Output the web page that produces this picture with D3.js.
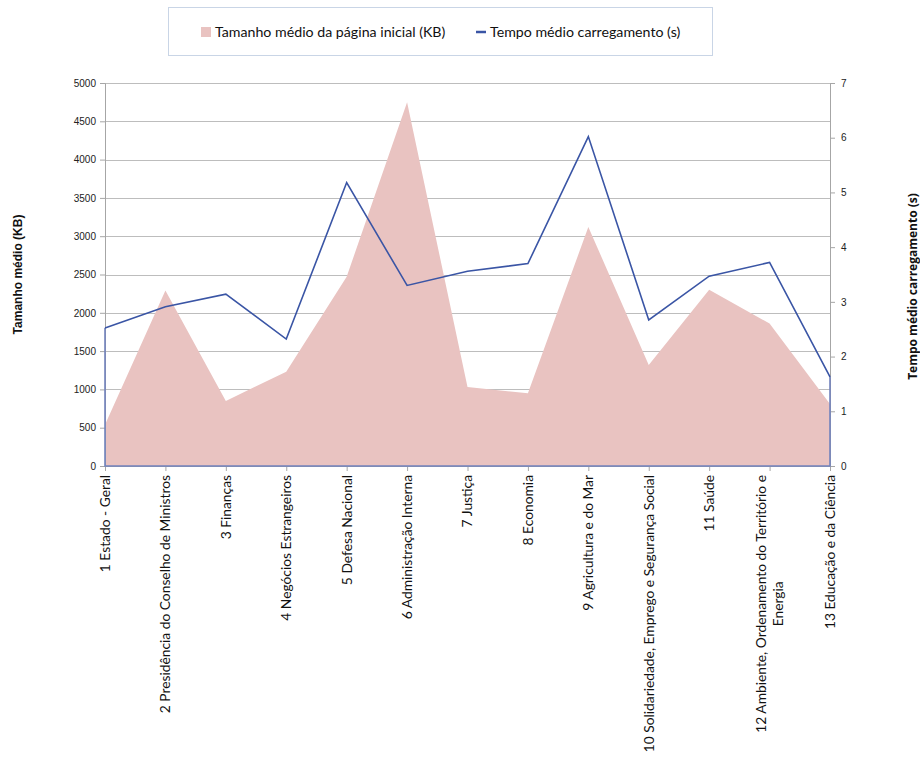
<!DOCTYPE html>
<html>
<head>
<meta charset="utf-8">
<script src="https://cdn.jsdelivr.net/npm/d3@7"></script>
<style>
	body { margin: 0; background: #fff; }
	svg { display: block; }
	.tick text { fill: #222; }
</style>
</head>
<body>
<svg width="920" height="758"></svg>
<script>
const categorias = [
	"1 Estado - Geral",
	"2 Presidência do Conselho de Ministros",
	"3 Finanças",
	"4 Negócios Estrangeiros",
	"5 Defesa Nacional",
	"6 Administração Interna",
	"7 Justiça",
	"8 Economia",
	"9 Agricultura e do Mar",
	"10 Solidariedade, Emprego e Segurança Social",
	"11 Saúde",
	"12 Ambiente, Ordenamento do Território e|Energia",
	"13 Educação e da Ciência"
];

// Tamanho médio da página inicial (KB)
const tamanho = [540, 2290, 850, 1230, 2470, 4750, 1030, 950, 3120, 1320, 2300, 1860, 810];
// Tempo médio carregamento (s)
const tempo = [2.52, 2.91, 3.14, 2.32, 5.18, 3.30, 3.56, 3.70, 6.02, 2.67, 3.47, 3.72, 1.63];

const ticksEsq = [0, 500, 1000, 1500, 2000, 2500, 3000, 3500, 4000, 4500, 5000];
const ticksDir = [0, 1, 2, 3, 4, 5, 6, 7];

const nomeArea = "Tamanho médio da página inicial (KB)";
const nomeLinha = "Tempo médio carregamento (s)";
const tituloEsq = "Tamanho médio (KB)";
const tituloDir = "Tempo médio carregamento (s)";

const svg = d3.select("svg");
const margin = { top: 83, right: 90, bottom: 292, left: 105 };
const width = 920 - margin.left - margin.right;
const height = 758 - margin.top - margin.bottom;

const corArea = "#e9c3c1";
const corLinha = "#3a55a5";
const cinza = "#a6a6a6";
const fonteTexto = "Lato, 'Open Sans', sans-serif";

const x = d3.scalePoint().domain(d3.range(categorias.length)).range([0, width]);
const y = d3.scaleLinear([0, 5000], [height, 0]);
const y2 = d3.scaleLinear([0, 7], [height, 0]);

const g = svg.append("g")
	.attr("transform", `translate(${margin.left},${margin.top})`);

// grelha
g.append("g")
	.selectAll("line")
	.data(ticksEsq.slice(1))
	.join("line")
	.attr("x1", 0)
	.attr("x2", width)
	.attr("y1", d => Math.round(y(d)) + 0.5)
	.attr("y2", d => Math.round(y(d)) + 0.5)
	.attr("stroke", "#bdbdbd")
	.attr("stroke-width", 1);

// area
const area = d3.area()
	.x((d, i) => x(i))
	.y0(y(0))
	.y1(d => y(d));

g.append("path")
	.attr("fill", corArea)
	.attr("d", area(tamanho));

// eixos
const gY1 = g.append("g")
	.call(d3.axisLeft(y).tickValues(ticksEsq).tickSize(5).tickPadding(4).tickFormat(d3.format("d")));
const gY2 = g.append("g")
	.attr("transform", `translate(${width},0)`)
	.call(d3.axisRight(y2).tickValues(ticksDir).tickSize(5).tickPadding(6).tickFormat(d3.format("d")));
const gX = g.append("g")
	.attr("transform", `translate(0,${height})`)
	.call(d3.axisBottom(x).tickSize(5).tickFormat(""));

[gY1, gY2, gX].forEach(a => {
	a.select(".domain").attr("stroke", cinza);
	a.selectAll(".tick line").attr("stroke", cinza);
	a.selectAll(".tick text")
		.attr("font-family", "'Liberation Sans', Arial, sans-serif")
		.attr("font-size", 10);
});

// bordas da serie de linha (fecho ate a base)
const n = tempo.length - 1;
g.append("path")
	.attr("fill", "none")
	.attr("stroke", "#7283bd")
	.attr("stroke-width", 1.6)
	.attr("d", `M${x(0)},${y2(tempo[0])}V${y2(0)}H${x(n)}V${y2(tempo[n])}`);

const linha = d3.line()
	.x((d, i) => x(i))
	.y(d => y2(d));

g.append("path")
	.attr("fill", "none")
	.attr("stroke", corLinha)
	.attr("stroke-width", 1.6)
	.attr("d", linha(tempo));

// rotulos das categorias
const rotulos = g.append("g")
	.attr("font-family", fonteTexto)
	.attr("font-size", 13.8)
	.attr("fill", "#111");

categorias.forEach((c, i) => {
	const linhas = c.split("|");
	const t = rotulos.append("text")
		.attr("transform", `translate(${x(i)},${height + 9}) rotate(-90)`)
		.attr("text-anchor", linhas.length > 1 ? "middle" : "end");
	if (linhas.length === 1) {
		t.append("tspan").attr("x", 0).attr("dy", "0.35em").text(linhas[0]);
	} else {
		linhas.forEach((l, k) => {
			t.append("tspan")
				.attr("class", "ml")
				.attr("x", 0)
				.attr("dy", k === 0 ? "-0.25em" : "1.2em")
				.text(l);
		});
	}
});

// centrar rotulo de duas linhas
rotulos.selectAll("text").each(function () {
	const sp = d3.select(this).selectAll("tspan.ml");
	if (sp.empty()) return;
	const larg = d3.max(sp.nodes(), s => s.getComputedTextLength());
	sp.attr("x", -larg / 2);
});

// titulos dos eixos
svg.append("text")
	.attr("transform", `translate(22,${margin.top + height / 2}) rotate(-90)`)
	.attr("text-anchor", "middle")
	.attr("font-family", "'Liberation Sans', Arial, sans-serif")
	.attr("font-weight", "bold")
	.attr("font-size", 12)
	.attr("fill", "#111")
	.text(tituloEsq);

svg.append("text")
	.attr("transform", `translate(917,${margin.top + height / 2 + 12}) rotate(-90)`)
	.attr("text-anchor", "middle")
	.attr("font-family", "'Open Sans', sans-serif")
	.attr("font-weight", "bold")
	.attr("font-size", 12)
	.attr("fill", "#111")
	.text(tituloDir);

// legenda
const leg = svg.append("g");
leg.append("rect")
	.attr("x", 168.5).attr("y", 7.5)
	.attr("width", 544).attr("height", 48)
	.attr("fill", "#fff")
	.attr("stroke", "#c9d5e6");

leg.append("rect")
	.attr("x", 201).attr("y", 27)
	.attr("width", 10).attr("height", 10)
	.attr("fill", corArea);
leg.append("text")
	.attr("x", 215).attr("y", 37)
	.attr("font-family", fonteTexto)
	.attr("font-size", 14.2)
	.attr("fill", "#111")
	.text(nomeArea);

leg.append("line")
	.attr("x1", 476).attr("x2", 486)
	.attr("y1", 32).attr("y2", 32)
	.attr("stroke", corLinha)
	.attr("stroke-width", 2.5);
leg.append("text")
	.attr("x", 490).attr("y", 37)
	.attr("font-family", fonteTexto)
	.attr("font-size", 14.2)
	.attr("fill", "#111")
	.text(nomeLinha);
</script>
</body>
</html>
